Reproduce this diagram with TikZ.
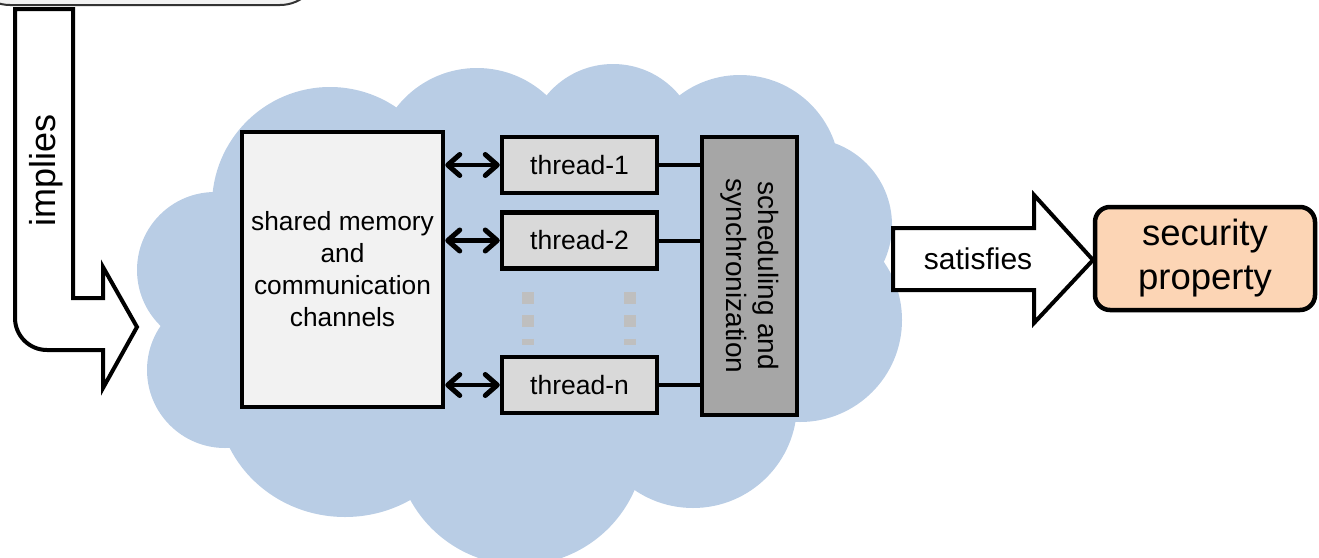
\documentclass[tikz,border=0pt]{standalone}
\usepackage{fontspec}
\setmainfont{Liberation Sans}
\usetikzlibrary{arrows.meta}
\definecolor{cloudblue}{HTML}{B9CDE5}
\definecolor{memgray}{HTML}{F2F2F2}
\definecolor{threadgray}{HTML}{D9D9D9}
\definecolor{schedgray}{HTML}{A6A6A6}
\definecolor{dotgray}{HTML}{BFBFBF}
\definecolor{secorange}{HTML}{FCD5B5}
\tikzset{
  boxline/.style={draw=black, line width=4.5pt},
  membox/.style={boxline, fill=memgray, minimum width=201pt, minimum height=275pt, inner sep=0pt, align=center, font=\fontsize{26.3}{32}\selectfont},
  threadbox/.style={boxline, fill=threadgray, minimum width=155pt, minimum height=56pt, inner sep=0pt, font=\fontsize{26.5}{32}\selectfont},
  schedbox/.style={boxline, fill=schedgray, minimum width=95pt, minimum height=278pt, inner sep=0pt},
  secbox/.style={boxline, fill=secorange, rounded corners=15pt, minimum width=220pt, minimum height=103pt, inner sep=0pt, align=center, font=\fontsize{36.5}{44}\selectfont},
  blockarrow/.style={draw=black, line width=4pt, fill=white, line join=miter},
  barbtip/.tip={Straight Barb[length=12pt,width=21pt,line width=5pt,round]},
  dblarrow/.style={line width=4.5pt, barbtip-barbtip},
  conn/.style={line width=4pt},
  dotline/.style={draw=dotgray, line width=12pt, dash pattern=on 11.7pt off 11.7pt},
}
\begin{document}
\begin{tikzpicture}[x=1pt, y=-1pt]
\useasboundingbox (0,0) rectangle (1319,557);
% cloud
\begin{scope}[fill=cloudblue]
\fill (330,205) circle[radius=118pt];
\fill (477,170) circle[radius=102pt];
\fill (613,150) circle[radius=86pt];
\fill (740,175) circle[radius=100pt];
\fill (805,225) circle[radius=87pt];
\fill (800,320) circle[radius=102pt];
\fill (693,404) circle[radius=104pt];
\fill (520,440) circle[radius=125pt];
\fill (345,395) ellipse[x radius=128pt, y radius=122pt];
\fill (225,370) circle[radius=78pt];
\fill (215,270) circle[radius=78pt];
\fill (330,205) -- (477,170) -- (613,150) -- (740,175) -- (805,225) -- (800,320) -- (693,404) -- (520,440) -- (345,398) -- (225,370) -- (215,270) -- cycle;
\end{scope}
% top rounded box (cut off)
\draw[fill=memgray, line width=2pt, draw=black!80, rounded corners=40pt] (-30,-80) rectangle (320,5);
% implies arrow
\draw[blockarrow] (73,9) -- (73,298) -- (103,298) -- (103,267) -- (137,327) -- (103,388) -- (103,350) -- (47,350)
  .. controls (29.3,350) and (15,335.7) .. (15,318) -- (15,9) -- cycle;
\node[rotate=90, font=\fontsize{36}{40}\selectfont, inner sep=0pt] (implies) at (46,170) {implies};
% main boxes
\node[membox] (mem) at (342.5,269.5) {shared memory\\and\\communication\\channels};
\node[threadbox] (t1) at (579.5,165) {thread-1};
\node[threadbox] (t2) at (579.5,240.5) {thread-2};
\node[threadbox] (tn) at (579.5,385) {thread-n};
\node[schedbox] (sched) at (749.5,276) {};
\node[rotate=-90, align=center, inner sep=0pt, font=\fontsize{28}{32}\selectfont] (schedtext) at (sched.center) {scheduling and\\synchronization};
% double arrows
\draw[dblarrow] (mem.east |- t1) -- (t1.west);
\draw[dblarrow] (mem.east |- t2) -- (t2.west);
\draw[dblarrow] (mem.east |- tn) -- (tn.west);
% connectors to scheduler
\draw[conn] (t1.east) -- (t1.east -| sched.west);
\draw[conn] (t2.east) -- (t2.east -| sched.west);
\draw[conn] (tn.east) -- (tn.east -| sched.west);
% dots
\draw[dotline] (528,292) -- (528,345);
\draw[dotline] (630,292) -- (630,345);
% satisfies arrow
\draw[blockarrow] (893,228) -- (1034,228) -- (1034,195) -- (1093,260) -- (1034,323) -- (1034,290) -- (893,290) -- cycle;
\node[font=\fontsize{30}{34}\selectfont, inner sep=0pt] (satlabel) at (978,259) {satisfies};
% security property
\node[secbox] (sec) at (1205,258.5) {security\\property};
\end{tikzpicture}
\end{document}
